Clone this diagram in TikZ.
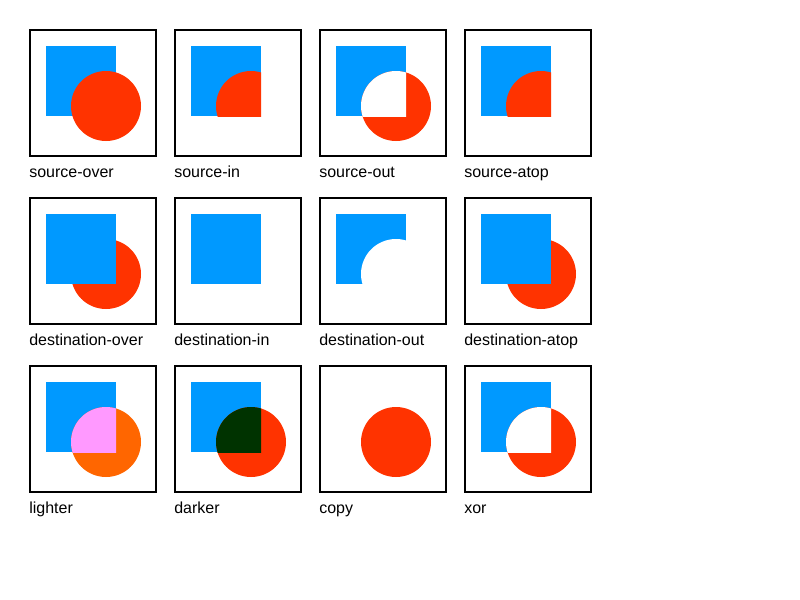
\documentclass[tikz,border=0pt]{standalone}
\usepackage{fontspec}
\setmainfont{Liberation Sans}
\definecolor{cblue}{RGB}{0,153,255}
\definecolor{cred}{RGB}{255,51,0}
\definecolor{corange}{RGB}{255,102,0}
\definecolor{cpink}{RGB}{255,153,255}
\definecolor{cdark}{RGB}{0,51,0}
\tikzset{
  frame/.style={draw=black,line width=1.5pt},
  lbl/.style={anchor=base west,inner sep=0pt,font=\fontsize{12pt}{14pt}\selectfont},
}
\newcommand{\sqpath}{(16,16) rectangle (86,86)}
\newcommand{\cirpath}{(76,76) circle[radius=35]}
\begin{document}
\begin{tikzpicture}[x=0.75pt,y=-0.75pt]
\useasboundingbox (0,0) rectangle (800,600);
\fill[white] (0,0) rectangle (800,600);
% row 1
\begin{scope}[shift={(30,30)}]
  \fill[cblue] \sqpath; \fill[cred] \cirpath;
  \draw[frame] (0,0) rectangle (126,126);
  \node[lbl] (l1) at (-1,147) {source-over};
\end{scope}
\begin{scope}[shift={(175,30)}]
  \fill[cblue] \sqpath;
  \begin{scope}\clip \sqpath; \fill[cred] \cirpath; \end{scope}
  \draw[frame] (0,0) rectangle (126,126);
  \node[lbl] (l2) at (-1,147) {source-in};
\end{scope}
\begin{scope}[shift={(320,30)}]
  \fill[cblue] \sqpath; \fill[cred] \cirpath;
  \begin{scope}\clip \sqpath; \fill[white] \cirpath; \end{scope}
  \draw[frame] (0,0) rectangle (126,126);
  \node[lbl] (l3) at (-1,147) {source-out};
\end{scope}
\begin{scope}[shift={(465,30)}]
  \fill[cblue] \sqpath;
  \begin{scope}\clip \sqpath; \fill[cred] \cirpath; \end{scope}
  \draw[frame] (0,0) rectangle (126,126);
  \node[lbl] (l4) at (-1,147) {source-atop};
\end{scope}
% row 2
\begin{scope}[shift={(30,198)}]
  \fill[cred] \cirpath; \fill[cblue] \sqpath;
  \draw[frame] (0,0) rectangle (126,126);
  \node[lbl] (l5) at (-1,147) {destination-over};
\end{scope}
\begin{scope}[shift={(175,198)}]
  \fill[cblue] \sqpath;
  \draw[frame] (0,0) rectangle (126,126);
  \node[lbl] (l6) at (-1,147) {destination-in};
\end{scope}
\begin{scope}[shift={(320,198)}]
  \fill[cblue] \sqpath; \fill[white] \cirpath;
  \draw[frame] (0,0) rectangle (126,126);
  \node[lbl] (l7) at (-1,147) {destination-out};
\end{scope}
\begin{scope}[shift={(465,198)}]
  \fill[cred] \cirpath; \fill[cblue] \sqpath;
  \draw[frame] (0,0) rectangle (126,126);
  \node[lbl] (l8) at (-1,147) {destination-atop};
\end{scope}
% row 3
\begin{scope}[shift={(30,366)}]
  \fill[cblue] \sqpath; \fill[corange] \cirpath;
  \begin{scope}\clip \sqpath; \fill[cpink] \cirpath; \end{scope}
  \draw[frame] (0,0) rectangle (126,126);
  \node[lbl] (l9) at (-1,147) {lighter};
\end{scope}
\begin{scope}[shift={(175,366)}]
  \fill[cblue] \sqpath; \fill[cred] \cirpath;
  \begin{scope}\clip \sqpath; \fill[cdark] \cirpath; \end{scope}
  \draw[frame] (0,0) rectangle (126,126);
  \node[lbl] (l10) at (-1,147) {darker};
\end{scope}
\begin{scope}[shift={(320,366)}]
  \fill[cred] \cirpath;
  \draw[frame] (0,0) rectangle (126,126);
  \node[lbl] (l11) at (-1,147) {copy};
\end{scope}
\begin{scope}[shift={(465,366)}]
  \fill[cblue] \sqpath; \fill[cred] \cirpath;
  \begin{scope}\clip \sqpath; \fill[white] \cirpath; \end{scope}
  \draw[frame] (0,0) rectangle (126,126);
  \node[lbl] (l12) at (-1,147) {xor};
\end{scope}
\end{tikzpicture}
\end{document}
